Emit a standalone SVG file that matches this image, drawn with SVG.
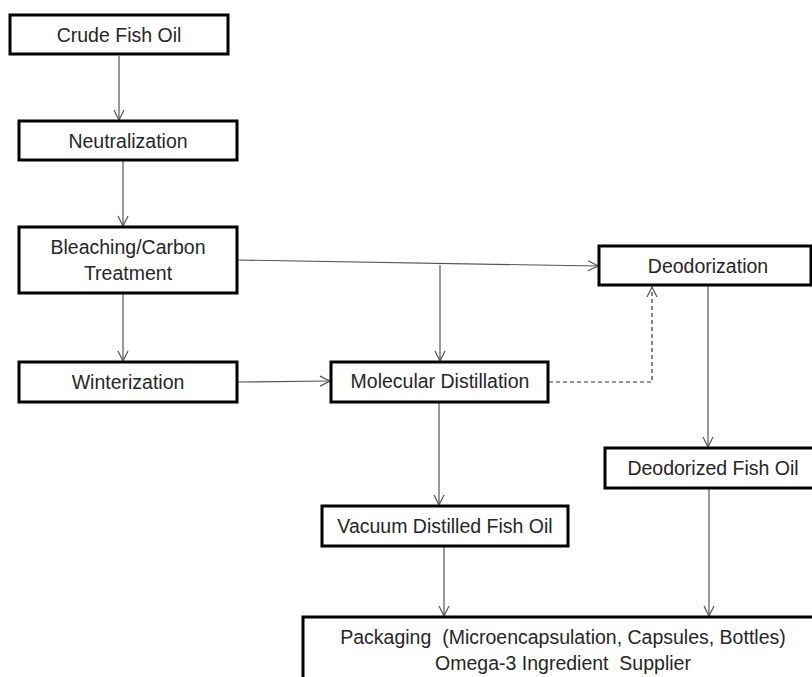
<svg xmlns="http://www.w3.org/2000/svg" width="812" height="677" viewBox="0 0 812 677">
  <style>
    .box { fill: #ffffff; stroke: #000000; stroke-width: 3; }
    .lbl { font-family: "Liberation Sans", Arial, sans-serif; font-size: 19.5px; fill: #262626; text-anchor: middle; dominant-baseline: central; }
    .link { fill: none; stroke: #555555; stroke-width: 1.2; }
    .dash { stroke: #333333; stroke-dasharray: 4 3; }
  </style>
  <defs>
    <marker id="open" viewBox="0 0 12 12" refX="11" refY="6" markerWidth="12" markerHeight="12" markerUnits="userSpaceOnUse" orient="auto">
      <path d="M1,1 L11,6 L1,11" fill="none" stroke="#555555" stroke-width="1.2"/>
    </marker>
  </defs>
  <rect width="812" height="677" fill="#ffffff"/>

  <g id="connectors">
    <line class="link" x1="119" y1="56" x2="119" y2="120" marker-end="url(#open)"/>
    <line class="link" x1="123" y1="161" x2="123" y2="226" marker-end="url(#open)"/>
    <line class="link" x1="123" y1="294" x2="123" y2="361" marker-end="url(#open)"/>
    <line class="link" x1="238" y1="260" x2="598" y2="266" marker-end="url(#open)"/>
    <line class="link" x1="440" y1="265" x2="440" y2="361" marker-end="url(#open)"/>
    <line class="link" x1="238" y1="382" x2="330" y2="381" marker-end="url(#open)"/>
    <polyline class="link dash" points="549,382 652,382 652,287" marker-end="url(#open)"/>
    <line class="link" x1="708" y1="286" x2="708" y2="447" marker-end="url(#open)"/>
    <line class="link" x1="439" y1="403" x2="439" y2="505" marker-end="url(#open)"/>
    <line class="link" x1="444" y1="547" x2="444" y2="616" marker-end="url(#open)"/>
    <line class="link" x1="709" y1="489" x2="709" y2="616" marker-end="url(#open)"/>
  </g>

  <g id="crude">
    <rect class="box" x="10" y="15" width="218" height="39"/>
    <text class="lbl" x="119" y="35">Crude Fish Oil</text>
  </g>
  <g id="neutralization">
    <rect class="box" x="19" y="121" width="218" height="39"/>
    <text class="lbl" x="128" y="141">Neutralization</text>
  </g>
  <g id="bleaching">
    <rect class="box" x="19" y="227" width="218" height="66"/>
    <text class="lbl" x="128" y="247">Bleaching/Carbon</text>
    <text class="lbl" x="128" y="273">Treatment</text>
  </g>
  <g id="winterization">
    <rect class="box" x="19" y="362" width="218" height="40"/>
    <text class="lbl" x="128" y="382">Winterization</text>
  </g>
  <g id="molecular">
    <rect class="box" x="331" y="362" width="217" height="40"/>
    <text class="lbl" x="440" y="381">Molecular Distillation</text>
  </g>
  <g id="deodorization">
    <rect class="box" x="599" y="246" width="212" height="39"/>
    <text class="lbl" x="708" y="266">Deodorization</text>
  </g>
  <g id="deodorized">
    <rect class="box" x="605" y="448" width="210" height="40"/>
    <text class="lbl" x="713" y="468">Deodorized Fish Oil</text>
  </g>
  <g id="vacuum">
    <rect class="box" x="322" y="506" width="246" height="40"/>
    <text class="lbl" x="445" y="526">Vacuum Distilled Fish Oil</text>
  </g>
  <g id="packaging">
    <rect class="box" x="303" y="617" width="515" height="70"/>
    <text class="lbl" x="563" y="637" xml:space="preserve">Packaging  (Microencapsulation, Capsules, Bottles)</text>
    <text class="lbl" x="563" y="663" xml:space="preserve">Omega-3 Ingredient  Supplier</text>
  </g>
</svg>
